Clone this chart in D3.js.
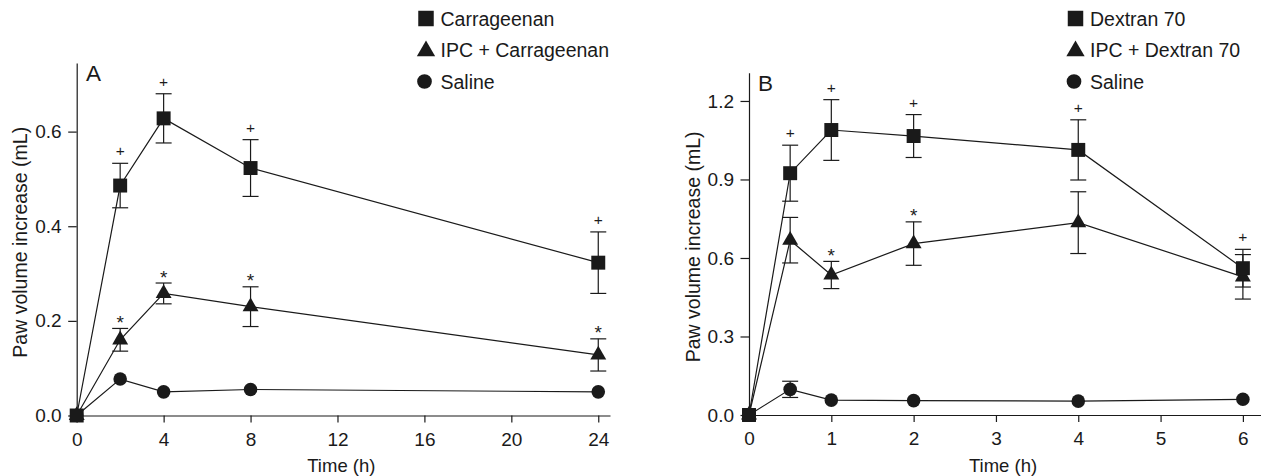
<!DOCTYPE html>
<html><head><meta charset="utf-8">
<script src="https://cdn.jsdelivr.net/npm/d3@7"></script>
<style>
html,body{margin:0;padding:0;background:#fff;}
svg{display:block;font-family:"Liberation Sans",Arial,Helvetica,sans-serif;}
</style></head>
<body><svg id="chart" width="1261" height="476"></svg>
<script>
// ---------- Data ----------
const timesA = [0, 2, 4, 8, 24];
const carrA = [0, 0.486, 0.628, 0.523, 0.323];
const carrAErr = [0, 0.047, 0.052, 0.060, 0.065];
const ipcA = [0, 0.160, 0.258, 0.230, 0.128];
const ipcAErr = [0, 0.024, 0.022, 0.042, 0.034];
const salA = [0, 0.077, 0.050, 0.055, 0.050];
const salAErr = [0, 0, 0, 0, 0];
const sigCarrA = ["", "+", "+", "+", "+"];
const sigIpcA = ["", "*", "*", "*", "*"];
const xTicksA = [0, 4, 8, 12, 16, 20, 24];
const yTicksA = [0, 0.2, 0.4, 0.6];
const legendA = ["Carrageenan", "IPC + Carrageenan", "Saline"];

const timesB = [0, 0.5, 1, 2, 4, 6];
const dexB = [0, 0.924, 1.089, 1.066, 1.013, 0.561];
const dexBErr = [0, 0.107, 0.116, 0.082, 0.115, 0.072];
const ipcB = [0, 0.668, 0.535, 0.655, 0.735, 0.528];
const ipcBErr = [0, 0.087, 0.052, 0.083, 0.118, 0.085];
const salB = [0, 0.098, 0.057, 0.055, 0.053, 0.060];
const salBErr = [0, 0.031, 0, 0, 0, 0];
const sigDexB = ["", "+", "+", "+", "+", "+"];
const sigIpcB = ["", "", "*", "*", "", ""];
const xTicksB = [0, 1, 2, 3, 4, 5, 6];
const yTicksB = [0, 0.3, 0.6, 0.9, 1.2];
const legendB = ["Dextran 70", "IPC + Dextran 70", "Saline"];

const svg = d3.select("#chart");
const INK = "#1a1a1a";

function panel(cfg) {
  const g = svg.append("g");
  const x = d3.scaleLinear().domain(cfg.xDomain).range(cfg.xRange);
  const y = d3.scaleLinear().domain(cfg.yDomain).range(cfg.yRange);

  // axes
  const xAxis = d3.axisBottom(x).tickValues(cfg.xTicks).tickSize(7).tickPadding(10).tickSizeOuter(0)
    .tickFormat(d3.format("d"));
  const yAxis = d3.axisLeft(y).tickValues(cfg.yTicks).tickSize(8.5).tickPadding(6.5).tickSizeOuter(0)
    .tickFormat(d3.format(".1f"));
  const gx = g.append("g").attr("transform", `translate(0,${cfg.yRange[0]})`).call(xAxis);
  const gy = g.append("g").attr("transform", `translate(${cfg.xRange[0]},0)`).call(yAxis);
  [gx, gy].forEach(a => {
    a.selectAll("path,line").attr("stroke", INK).attr("stroke-width", 1.2);
    a.selectAll("text").attr("fill", INK).style("font-size", "19px");
  });

  // axis titles
  g.append("text").attr("x", (cfg.xRange[0] + cfg.xRange[1]) / 2 - 2).attr("y", 472)
    .attr("text-anchor", "middle").attr("fill", INK).style("font-size", "18.5px").text("Time (h)");
  g.append("text").attr("transform", `translate(${cfg.yTitleX},${(cfg.yRange[0] + cfg.yRange[1]) / 2 + 3}) rotate(-90)`)
    .attr("text-anchor", "middle").attr("dy", "0.35em").attr("fill", INK).style("font-size", "19.5px")
    .text("Paw volume increase (mL)");
  // panel letter
  g.append("text").attr("x", cfg.letterX).attr("y", cfg.letterY).attr("fill", INK)
    .style("font-size", "22.5px").text(cfg.letter);

  const line = d3.line().x(d => x(d.t)).y(d => y(d.v));
  const symSize = { square: 195, triangle: 110, circle: 145 };
  const symType = { square: d3.symbolSquare, triangle: d3.symbolTriangle, circle: d3.symbolCircle };

  cfg.series.forEach(s => {
    const pts = cfg.times.map((t, i) => ({ t, v: s.values[i], e: s.err[i], sig: s.sig ? s.sig[i] : "" }));
    g.append("path").datum(pts).attr("d", line).attr("fill", "none").attr("stroke", INK).attr("stroke-width", 1.2);
    // error bars
    pts.filter(p => p.e > 0).forEach(p => {
      const cx = x(p.t), y1 = y(p.v + p.e), y0 = y(p.v - p.e);
      g.append("line").attr("x1", cx).attr("x2", cx).attr("y1", y1).attr("y2", y0).attr("stroke", INK).attr("stroke-width", 1.2);
      g.append("line").attr("x1", cx - 8).attr("x2", cx + 8).attr("y1", y1).attr("y2", y1).attr("stroke", INK).attr("stroke-width", 1.2);
      g.append("line").attr("x1", cx - 8).attr("x2", cx + 8).attr("y1", y0).attr("y2", y0).attr("stroke", INK).attr("stroke-width", 1.2);
    });
    // significance marks
    pts.filter(p => p.sig).forEach(p => {
      const top = y(p.v + p.e);
      const isStar = p.sig === "*";
      g.append("text").attr("x", x(p.t)).attr("y", isStar ? top + 0.5 : top - 7)
        .attr("text-anchor", "middle").attr("fill", INK).attr("opacity", 0.99)
        .style("font-size", isStar ? "19px" : "15.5px").text(p.sig);
    });
    s.pts = pts;
  });
  // markers (draw after lines)
  cfg.series.forEach(s => {
    g.selectAll(null).data(s.pts).enter().append("path")
      .attr("transform", d => `translate(${x(d.t)},${y(d.v)})`)
      .attr("d", d3.symbol().type(symType[s.shape]).size(symSize[s.shape]))
      .attr("fill", INK);
  });

  // legend
  const lg = g.append("g");
  const rows = [18.5, 50, 81.5];
  const lsize = { square: 240, triangle: 145, circle: 170 };
  cfg.legend.forEach((name, i) => {
    const shape = ["square", "triangle", "circle"][i];
    lg.append("path").attr("transform", `translate(${cfg.legX - (shape === "circle" ? 1.5 : 0)},${rows[i] + (shape === "triangle" ? 1 : 0)})`)
      .attr("d", d3.symbol().type(symType[shape]).size(lsize[shape])).attr("fill", INK);
    lg.append("text").attr("x", cfg.legX + 14.5).attr("y", rows[i]).attr("dy", "0.36em")
      .attr("fill", INK).style("font-size", "19.5px").text(name);
  });
}

panel({
  times: timesA, xDomain: [0, 24.54], xRange: [76.7, 610], yDomain: [0, 0.745], yRange: [415.5, 63],
  xTicks: xTicksA, yTicks: yTicksA, yTitleX: 20, letter: "A", letterX: 86, letterY: 81,
  legend: legendA, legX: 426,
  series: [
    { values: salA, err: salAErr, shape: "circle" },
    { values: ipcA, err: ipcAErr, sig: sigIpcA, shape: "triangle" },
    { values: carrA, err: carrAErr, sig: sigCarrA, shape: "square" }
  ]
});

panel({
  times: timesB, xDomain: [0, 6.22], xRange: [749, 1261], yDomain: [0, 1.308], yRange: [415, 72.7],
  xTicks: xTicksB, yTicks: yTicksB, yTitleX: 693, letter: "B", letterX: 758, letterY: 91,
  legend: legendB, legX: 1075.5,
  series: [
    { values: salB, err: salBErr, shape: "circle" },
    { values: ipcB, err: ipcBErr, sig: sigIpcB, shape: "triangle" },
    { values: dexB, err: dexBErr, sig: sigDexB, shape: "square" }
  ]
});
</script></body></html>
